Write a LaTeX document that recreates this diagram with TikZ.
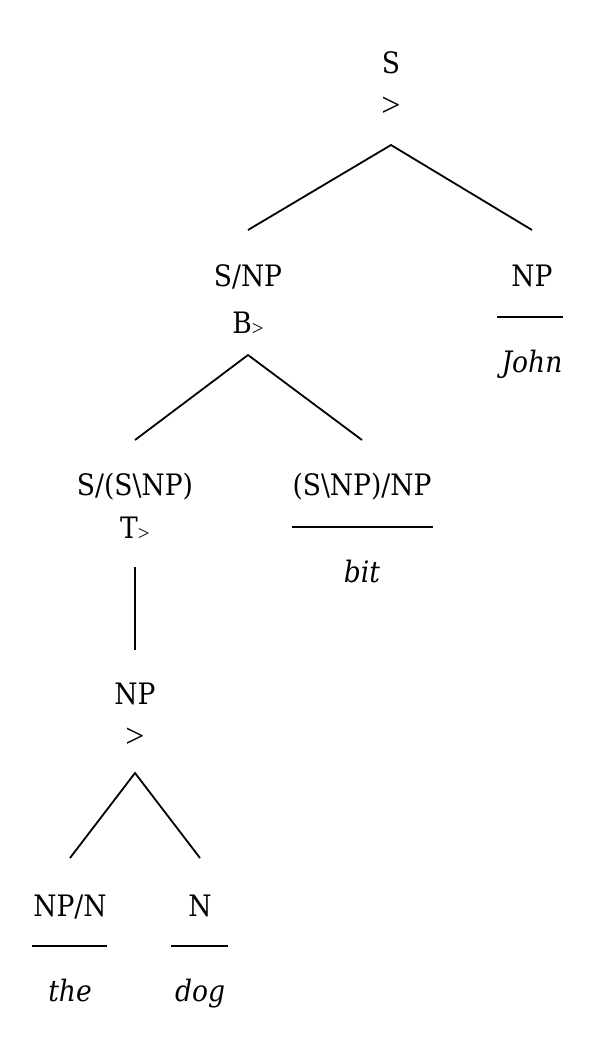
\documentclass[tikz,border=0pt]{standalone}
\usepackage{fontspec}
\setmainfont{DejaVu Serif Condensed}
\newfontfamily\gtfont{Liberation Serif}
\begin{document}
\begin{tikzpicture}[x=1pt,y=-1pt,
  cat/.style={font=\fontsize{29.5}{34}\selectfont, inner sep=0pt, anchor=base},
  rul/.style={font=\fontsize{29.5}{34}\selectfont, inner sep=0pt, anchor=base},
  gt/.style={font=\fontsize{34}{38}\selectfont\gtfont, inner sep=0pt, anchor=center},
  wrd/.style={font=\fontsize{29.5}{34}\selectfont\itshape, inner sep=0pt, anchor=base},
  edge/.style={line width=1.8pt},
  bar/.style={line width=1.8pt}]
\useasboundingbox (0,0) rectangle (596,1046);
\newcommand{\sm}[1]{\raisebox{-0.15ex}{\fontsize{21}{24}\selectfont\gtfont #1}}
% nodes
\node[cat] (s) at (391,74) {S};
\node[gt] (sr) at (391,107) {>};
\coordinate (st) at (391,145);
\coordinate (sl) at (248,230);
\coordinate (sn) at (532,230);
\node[cat] (snp) at (248,286) {S/NP};
\node[rul] (snpr) at (248,333) {B\sm{>}};
\node[cat] (np1) at (532,286) {NP};
\node[wrd] (john) at (532,372) {John};
\coordinate (np1a) at (497,317);
\coordinate (np1b) at (563,317);
\coordinate (bt) at (248,355);
\coordinate (bl) at (135,440);
\coordinate (br) at (362,440);
\node[cat] (str) at (135,495) {S/(S\textbackslash NP)};
\node[rul] (strr) at (135,538) {T\sm{>}};
\node[cat] (tv) at (362,495) {(S\textbackslash NP)/NP};
\coordinate (tva) at (292,527);
\coordinate (tvb) at (433,527);
\node[wrd] (bit) at (362,582) {bit};
\coordinate (tt) at (135,567);
\coordinate (tb) at (135,650);
\node[cat] (np2) at (135,704) {NP};
\node[gt] (np2r) at (135,738) {>};
\coordinate (nt) at (135,773);
\coordinate (nl) at (70,858);
\coordinate (nr) at (200,858);
\node[cat] (det) at (70,916) {NP/N};
\coordinate (deta) at (32,946);
\coordinate (detb) at (107,946);
\node[wrd] (the) at (70,1001) {the};
\node[cat] (n) at (200,916) {N};
\coordinate (na) at (171,946);
\coordinate (nb) at (228,946);
\node[wrd] (dog) at (200,1001) {dog};
% connectors
\draw[edge] (sl) -- (st) -- (sn);
\draw[bar] (np1a) -- (np1b);
\draw[edge] (bl) -- (bt) -- (br);
\draw[bar] (tva) -- (tvb);
\draw[edge] (tt) -- (tb);
\draw[edge] (nl) -- (nt) -- (nr);
\draw[bar] (deta) -- (detb);
\draw[bar] (na) -- (nb);
\end{tikzpicture}
\end{document}
